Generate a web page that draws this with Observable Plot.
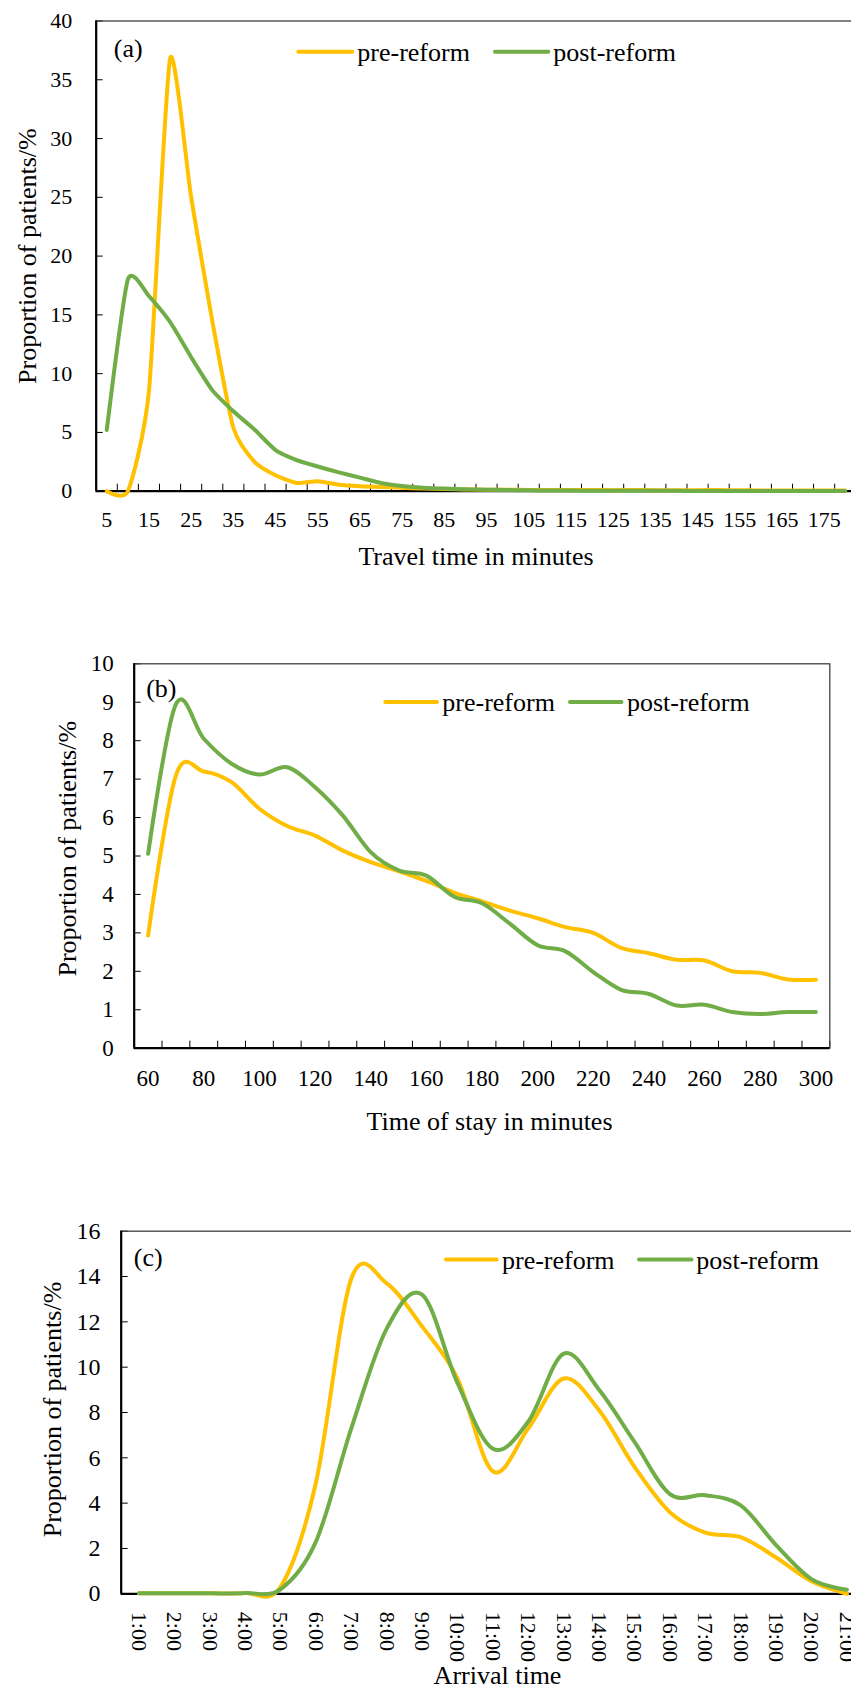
<!DOCTYPE html>
<html>
<head>
<meta charset="utf-8">
<script src="https://cdn.jsdelivr.net/npm/d3@7"></script>
<script src="https://cdn.jsdelivr.net/npm/@observablehq/plot@0.6"></script>
<style>
  html, body { margin: 0; padding: 0; background: #fff; overflow: hidden; }
  #page { position: relative; width: 851px; height: 1697px; overflow: hidden; background: #fff;
          font-family: "Liberation Serif", "Times New Roman", serif; }
  .panel { position: absolute; left: 0; }
  #legends { position: absolute; left: 0; top: 0; }
</style>
</head>
<body>
<div id="page">
  <div class="panel" id="pa" style="top:0px"></div>
  <div class="panel" id="pb" style="top:600px"></div>
  <div class="panel" id="pc" style="top:1140px"></div>
</div>
<script>
// ---------------- data ----------------
const seriesNames = ["pre-reform", "post-reform"];
const seriesColors = ["#FFC000", "#70AD47"];

// (a) travel time in minutes
const travelTimes = [5,10,15,20,25,30,35,40,45,50,55,60,65,70,75,80,85,90,95,100,105,110,115,120,125,130,135,140,145,150,155,160,165,170,175,180];
const travelPre  = [0,0,8.5,36.8,25.0,14.5,5.4,2.5,1.35,0.7,0.85,0.55,0.42,0.35,0.3,0.22,0.18,0.15,0.13,0.12,0.11,0.1,0.1,0.1,0.09,0.1,0.09,0.08,0.09,0.1,0.08,0.07,0.07,0.06,0.06,0.05];
const travelPost = [5.2,18.0,16.6,14.4,11.4,8.6,6.8,5.25,3.5,2.65,2.1,1.6,1.15,0.7,0.45,0.3,0.22,0.17,0.13,0.1,0.08,0.06,0.05,0.04,0.04,0.03,0.03,0.03,0.02,0.02,0.02,0.02,0.02,0.02,0.02,0.02];

// (b) time of stay in minutes
const stayTimes = [60,70,80,90,100,110,120,130,140,150,160,170,180,190,200,210,220,230,240,250,260,270,280,290,300];
const stayPre  = [2.93,7.1,7.2,6.92,6.23,5.78,5.53,5.14,4.84,4.61,4.35,4.05,3.82,3.58,3.38,3.15,3.0,2.61,2.47,2.3,2.28,2.0,1.96,1.79,1.78];
const stayPost = [5.06,8.95,8.05,7.4,7.12,7.31,6.79,6.05,5.1,4.63,4.49,3.94,3.77,3.24,2.68,2.52,1.98,1.52,1.41,1.11,1.13,0.94,0.89,0.94,0.94];

// (c) arrival time
const arrivalHours = ["1:00","2:00","3:00","4:00","5:00","6:00","7:00","8:00","9:00","10:00","11:00","12:00","13:00","14:00","15:00","16:00","17:00","18:00","19:00","20:00","21:00"];
const arrivalPre  = [0.02,0.02,0.02,0.03,0.3,4.9,13.9,13.7,11.8,9.5,5.4,7.3,9.5,8.1,5.6,3.6,2.7,2.5,1.6,0.55,0.0];
const arrivalPost = [0.02,0.02,0.02,0.03,0.2,2.3,7.3,11.7,13.2,9.3,6.4,7.6,10.6,9.0,6.7,4.4,4.35,3.9,2.15,0.65,0.18];

// y tick values and titles
const yTicksA = [0,5,10,15,20,25,30,35,40];
const yTicksB = [0,1,2,3,4,5,6,7,8,9,10];
const yTicksC = [0,2,4,6,8,10,12,14,16];
const yTitle = "Proportion of patients/%";
const xTitles = ["Travel time in minutes", "Time of stay in minutes", "Arrival time"];
const panelTags = ["(a)", "(b)", "(c)"];

// ---------------- helpers ----------------
const FONT = '"Liberation Serif", "Times New Roman", serif';
function rows(pre, post) {
  const out = [];
  pre.forEach((v, i) => out.push({i: i + 0.5, v, s: seriesNames[0]}));
  post.forEach((v, i) => out.push({i: i + 0.5, v, s: seriesNames[1]}));
  return out;
}
function styleObj(fs) {
  return {fontFamily: FONT, fontSize: fs + "px", color: "#000", background: "transparent",
          maxWidth: "none", overflow: "visible"};
}
function baseMarks(data, tension) {
  return [
    Plot.frame({stroke: "#404040", strokeWidth: 1.3}),
    Plot.ruleX([0], {stroke: "#000", strokeWidth: 2.2}),
    Plot.ruleY([0], {stroke: "#000", strokeWidth: 2.2}),
    Plot.line(data, {x: "i", y: "v", stroke: "s", z: "s", strokeWidth: 4, curve: "cardinal", tension,
                     strokeLinejoin: "round", strokeLinecap: "round"})
  ];
}

// ---------------- (a) ----------------
const nA = travelTimes.length;
const plotA = Plot.plot({
  width: 870, height: 600,
  marginLeft: 95.7, marginRight: 870 - 855.3, marginTop: 20.5, marginBottom: 600 - 490.7,
  style: styleObj(22),
  x: {type: "linear", domain: [0, nA]},
  y: {type: "linear", domain: [0, 40]},
  color: {domain: seriesNames, range: seriesColors},
  marks: [
    Plot.axisY({ticks: yTicksA, tickSize: -7, tickPadding: 31, fontSize: 22, label: null}),
    Plot.axisX({ticks: d3.range(1, nA + 1), tickSize: -7, tickFormat: () => "", label: null}),
    Plot.axisX({ticks: d3.range(0, nA, 2).map(i => i + 0.5), tickSize: 0, tickPadding: 20.4,
                tickFormat: t => String(travelTimes[Math.floor(t)]), fontSize: 22, label: null}),
    ...baseMarks(rows(travelPre, travelPost), 0.4),
    Plot.text([panelTags[0]], {frameAnchor: "top-left", dx: 17.6, dy: 27.8, textAnchor: "start", lineAnchor: "middle", fontSize: 26}),
    Plot.text([xTitles[0]], {frameAnchor: "bottom", dy: 73.3, lineAnchor: "bottom", textAnchor: "middle", fontSize: 26}),
    Plot.text([yTitle], {frameAnchor: "left", rotate: -90, dx: -59.7, lineAnchor: "bottom", textAnchor: "middle", fontSize: 26})
  ]
});
document.getElementById("pa").appendChild(plotA);

// ---------------- (b) ----------------
const nB = stayTimes.length;
const plotB = Plot.plot({
  width: 851, height: 540,
  marginLeft: 133.7, marginRight: 851 - 829.3, marginTop: 63.3, marginBottom: 540 - 447.7,
  style: styleObj(23),
  x: {type: "linear", domain: [0, nB]},
  y: {type: "linear", domain: [0, 10]},
  color: {domain: seriesNames, range: seriesColors},
  marks: [
    Plot.axisY({ticks: yTicksB, tickSize: -7, tickPadding: 27.4, fontSize: 23, label: null}),
    Plot.axisX({ticks: d3.range(1, nB + 1), tickSize: -7, tickFormat: () => "", label: null}),
    Plot.axisX({ticks: d3.range(0, nB, 2).map(i => i + 0.5), tickSize: 0, tickPadding: 21.5,
                tickFormat: t => String(stayTimes[Math.floor(t)]), fontSize: 23, label: null}),
    ...baseMarks(rows(stayPre, stayPost), 0),
    Plot.text([panelTags[1]], {frameAnchor: "top-left", dx: 12, dy: 25, textAnchor: "start", lineAnchor: "middle", fontSize: 26}),
    Plot.text([xTitles[1]], {frameAnchor: "bottom", dx: 7.5, dy: 81.3, lineAnchor: "bottom", textAnchor: "middle", fontSize: 26}),
    Plot.text([yTitle], {frameAnchor: "left", rotate: -90, dx: -57.9, dy: -7.3, lineAnchor: "bottom", textAnchor: "middle", fontSize: 26})
  ]
});
document.getElementById("pb").appendChild(plotB);

// ---------------- (c) ----------------
const nC = arrivalHours.length;
const plotC = Plot.plot({
  width: 870, height: 557,
  marginLeft: 120.7, marginRight: 870 - 864.1, marginTop: 90.7, marginBottom: 557 - 453.3,
  style: styleObj(23),
  x: {type: "linear", domain: [0, nC]},
  y: {type: "linear", domain: [0, 16]},
  color: {domain: seriesNames, range: seriesColors},
  marks: [
    Plot.axisY({ticks: yTicksC, tickSize: -7, tickPadding: 27.7, fontSize: 24, label: null}),
    Plot.axisX({ticks: d3.range(0, nC).map(i => i + 0.5), tickSize: 0, tickPadding: 18, tickRotate: 90,
                tickFormat: t => arrivalHours[Math.floor(t)], fontSize: 22, label: null}),
    ...baseMarks(rows(arrivalPre, arrivalPost), 0),
    Plot.text([panelTags[2]], {frameAnchor: "top-left", dx: 12.6, dy: 26.6, textAnchor: "start", lineAnchor: "middle", fontSize: 26}),
    Plot.text([xTitles[2]], {frameAnchor: "bottom", dx: 4.6, dy: 89.7, lineAnchor: "bottom", textAnchor: "middle", fontSize: 26}),
    Plot.text([yTitle], {frameAnchor: "left", rotate: -90, dx: -60.1, dy: -3, lineAnchor: "bottom", textAnchor: "middle", fontSize: 26})
  ]
});
document.getElementById("pc").appendChild(plotC);

// ---------------- legends (overlay) ----------------
const legendSpecs = [
  {y: 51.7,   items: [{x1: 298.3, x2: 352.3, tx: 357.3}, {x1: 495, x2: 548.3, tx: 553.3}]},
  {y: 702,    items: [{x1: 385.3, x2: 437, tx: 442.3}, {x1: 570, x2: 621.5, tx: 627}]},
  {y: 1259.5, items: [{x1: 446, x2: 496.6, tx: 502}, {x1: 639, x2: 691.5, tx: 696.3}]}
];
const overlay = d3.select("#page").append("svg").attr("id", "legends")
  .attr("width", 851).attr("height", 1697).style("font-family", FONT);
legendSpecs.forEach(spec => {
  spec.items.forEach((it, k) => {
    overlay.append("line").attr("x1", it.x1).attr("x2", it.x2).attr("y1", spec.y).attr("y2", spec.y)
      .attr("stroke", seriesColors[k]).attr("stroke-width", 4).attr("stroke-linecap", "round");
    overlay.append("text").attr("x", it.tx).attr("y", spec.y + 9).attr("font-size", 26)
      .attr("fill", "#000").text(seriesNames[k]);
  });
});
</script>
</body>
</html>
